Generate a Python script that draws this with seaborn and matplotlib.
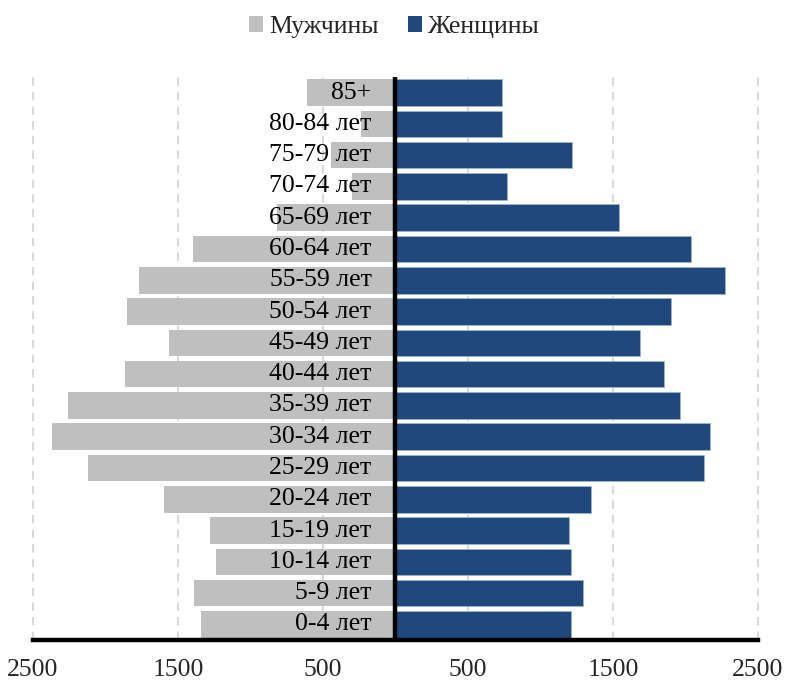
import matplotlib
matplotlib.use("Agg")
import matplotlib.pyplot as plt
from matplotlib.patches import Patch
import numpy as np
import pandas as pd
import seaborn as sns

ages = ["85+", "80-84 лет", "75-79 лет", "70-74 лет", "65-69 лет", "60-64 лет",
        "55-59 лет", "50-54 лет", "45-49 лет", "40-44 лет", "35-39 лет", "30-34 лет",
        "25-29 лет", "20-24 лет", "15-19 лет", "10-14 лет", "5-9 лет", "0-4 лет"]
men = [610, 240, 445, 302, 817, 1395, 1772, 1849, 1560, 1863, 2260, 2370,
       2119, 1594, 1279, 1235, 1388, 1340]
women = [735, 735, 1214, 769, 1543, 2041, 2274, 1899, 1689, 1849, 1961, 2171,
         2130, 1351, 1199, 1208, 1295, 1208]
tick_vals = [-2500, -1500, -500, 500, 1500, 2500]
tick_labels = ["2500", "1500", "500", "500", "1500", "2500"]

gray = "#BFBFBF"
blue = "#1F497D"
font = "Liberation Serif"
fs = 18.5

sns.set_style("white")
plt.rcParams["font.family"] = [font, "DejaVu Sans"]

df = pd.DataFrame({"age": ages, "men": -np.array(men), "women": women})

fig = plt.figure(figsize=(7.89, 6.82), dpi=100)
ax = fig.add_axes([0.0418, 0.0616, 0.9189, 0.8255])

for x in tick_vals:
    ax.axvline(x, color="#D9D9D9", lw=1.5, ls=(0, (4, 3)), zorder=0, clip_on=False)

sns.barplot(data=df, x="men", y="age", order=ages, color=gray, orient="h",
            width=0.85, ax=ax, linewidth=0, saturation=1, zorder=2)
sns.barplot(data=df, x="women", y="age", order=ages, color=blue, orient="h",
            width=0.85, ax=ax, edgecolor="#9FB3CB", linewidth=0.6,
            saturation=1, zorder=2)

ax.axvline(0, color="black", lw=3.2, zorder=4)

for i, lab in enumerate(ages):
    ax.text(-165, i, lab, ha="right", va="center", fontsize=fs,
            family=font, color="black", zorder=5)

ax.set_xlim(-2500, 2500)
ax.set_ylim(len(ages) - 0.5, -0.5)
ax.set_xticks(tick_vals)
ax.set_xticklabels(tick_labels, fontsize=fs, family=font)
ax.set_yticks([])
ax.set_xlabel("")
ax.set_ylabel("")
ax.tick_params(axis="x", length=0, pad=14)

for s in ["top", "right", "left"]:
    ax.spines[s].set_visible(False)
ax.spines["bottom"].set_color("black")
ax.spines["bottom"].set_linewidth(3.2)
ax.spines["bottom"].set_zorder(6)

handles = [Patch(facecolor=gray, edgecolor="none", label="Мужчины"),
           Patch(facecolor=blue, edgecolor="none", label="Женщины")]
fig.legend(handles=handles, loc="center", bbox_to_anchor=(0.5, 0.96), ncol=2,
           frameon=False, prop={"family": font, "size": fs},
           handlelength=0.55, handleheight=0.55, handletextpad=0.25,
           columnspacing=1.1)

fig.savefig("out.png", dpi=100)
